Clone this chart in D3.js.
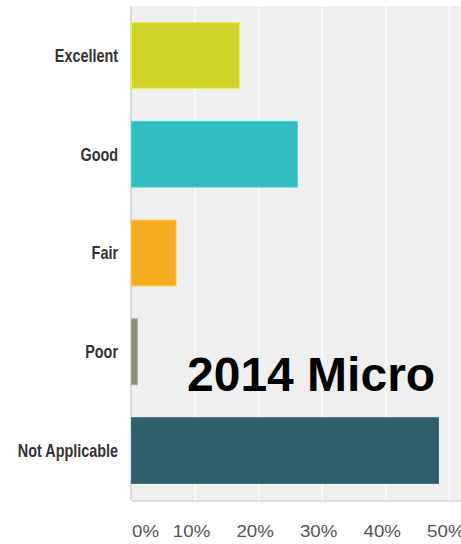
<!DOCTYPE html>
<html lang="en">
<head>
    <meta charset="UTF-8">
    <title>2014 Micro</title>
    <style>
      body { margin: 0; background: #fff; }
      .cat text { font-family: "Liberation Sans", Arial, sans-serif; font-weight: bold; font-size: 18px; fill: #333; }
      .xaxis text { font-family: "Liberation Sans", Arial, sans-serif; font-size: 16px; fill: #555; }
    </style>
</head>
<body>
  <svg id="svg" width="461" height="544"></svg>

  <script src="https://d3js.org/d3.v7.min.js"></script>
  <script>
    // ------ DATA ------------------------
    const categories = ['Excellent', 'Good', 'Fair', 'Poor', 'Not Applicable']
    const values = [0.170, 0.261, 0.070, 0.009, 0.483]
    const colors = ['#cfd42a', '#33bdc0', '#f6ac20', '#8c8e7b', '#2e5f6b']
    const tickValues = [0, 0.1, 0.2, 0.3, 0.4, 0.5]
    const tickLabels = ['0%', '10%', '20%', '30%', '40%', '50%']
    const title = '2014 Micro'

    // CONSTANTS
    const plot = { left: 131.5, right: 461, top: 6, bottom: 500 }
    const narrow = 0.8 // labels in the picture are condensed
    const wide = 1.17

    // ------ SCALES ------------------------
    const xscale = d3.scaleLinear()
        .domain([0, 0.5])
        .range([plot.left, 449.3])

    const yscale = d3.scaleBand()
        .domain(categories)
        .range([plot.top, plot.bottom])
        .paddingInner(0.335)
        .paddingOuter(0.168)

    const svg = d3.select('#svg')

    // plot background
    svg.append('rect')
        .attr('x', plot.left)
        .attr('y', plot.top)
        .attr('width', plot.right - plot.left)
        .attr('height', plot.bottom - plot.top)
        .attr('fill', '#efefef')

    // bottom shadow
    svg.append('line')
        .attr('x1', plot.left).attr('x2', plot.right)
        .attr('y1', plot.bottom + 1).attr('y2', plot.bottom + 1)
        .attr('stroke', '#dcdcdc')
        .attr('stroke-width', 2)

    // gridlines (white)
    svg.append('g')
        .selectAll('line')
        .data(tickValues.slice(1))
        .enter()
        .append('line')
        .attr('x1', d => xscale(d)).attr('x2', d => xscale(d))
        .attr('y1', plot.top).attr('y2', plot.bottom)
        .attr('stroke', '#fafafa')
        .attr('stroke-width', 2)

    // left axis line
    svg.append('line')
        .attr('x1', plot.left - 0.5).attr('x2', plot.left - 0.5)
        .attr('y1', plot.top).attr('y2', plot.bottom)
        .attr('stroke', '#cfcfcf')
        .attr('stroke-width', 1.5)

    // bars
    svg.append('g')
        .selectAll('rect')
        .data(categories)
        .enter()
        .append('rect')
        .attr('x', xscale(0))
        .attr('y', d => yscale(d))
        .attr('width', (d, i) => xscale(values[i]) - xscale(0))
        .attr('height', yscale.bandwidth())
        .attr('fill', (d, i) => colors[i])
        .attr('stroke', (d, i) => d3.color(colors[i]).brighter(0.4))
        .attr('stroke-width', 1)

    // category labels
    const leftAxis = d3.axisLeft(yscale).tickSize(0).tickPadding(0)
    svg.append('g')
        .attr('class', 'cat')
        .attr('transform', `translate(${plot.left - 13.5}, 0)`)
        .call(leftAxis)
        .call(g => g.select('.domain').remove())
        .selectAll('text')
        .attr('x', 0)
        .attr('dy', '0.36em')
        .attr('transform', `scale(${narrow},1)`)

    // x tick labels
    const bottomAxis = d3.axisBottom(xscale)
        .tickValues(tickValues)
        .tickFormat((d, i) => tickLabels[i])
        .tickSize(0)
        .tickPadding(0)
    svg.append('g')
        .attr('class', 'xaxis')
        .attr('transform', `translate(0, 537)`)
        .call(bottomAxis)
        .call(g => g.select('.domain').remove())
        .selectAll('text')
        .attr('dy', 0)
        .attr('x', (d, i) => i === 0 ? 0 : -4 / wide)
        .attr('text-anchor', (d, i) => i === 0 ? 'start' : 'middle')
        .attr('transform', `scale(${wide},1)`)

    // title
    svg.append('text')
        .attr('x', 187)
        .attr('y', 391)
        .attr('font-family', 'Liberation Sans, Arial, sans-serif')
        .attr('font-weight', 'bold')
        .attr('font-size', 48)
        .attr('fill', '#000')
        .text(title)
  </script>
</body>
</html>
